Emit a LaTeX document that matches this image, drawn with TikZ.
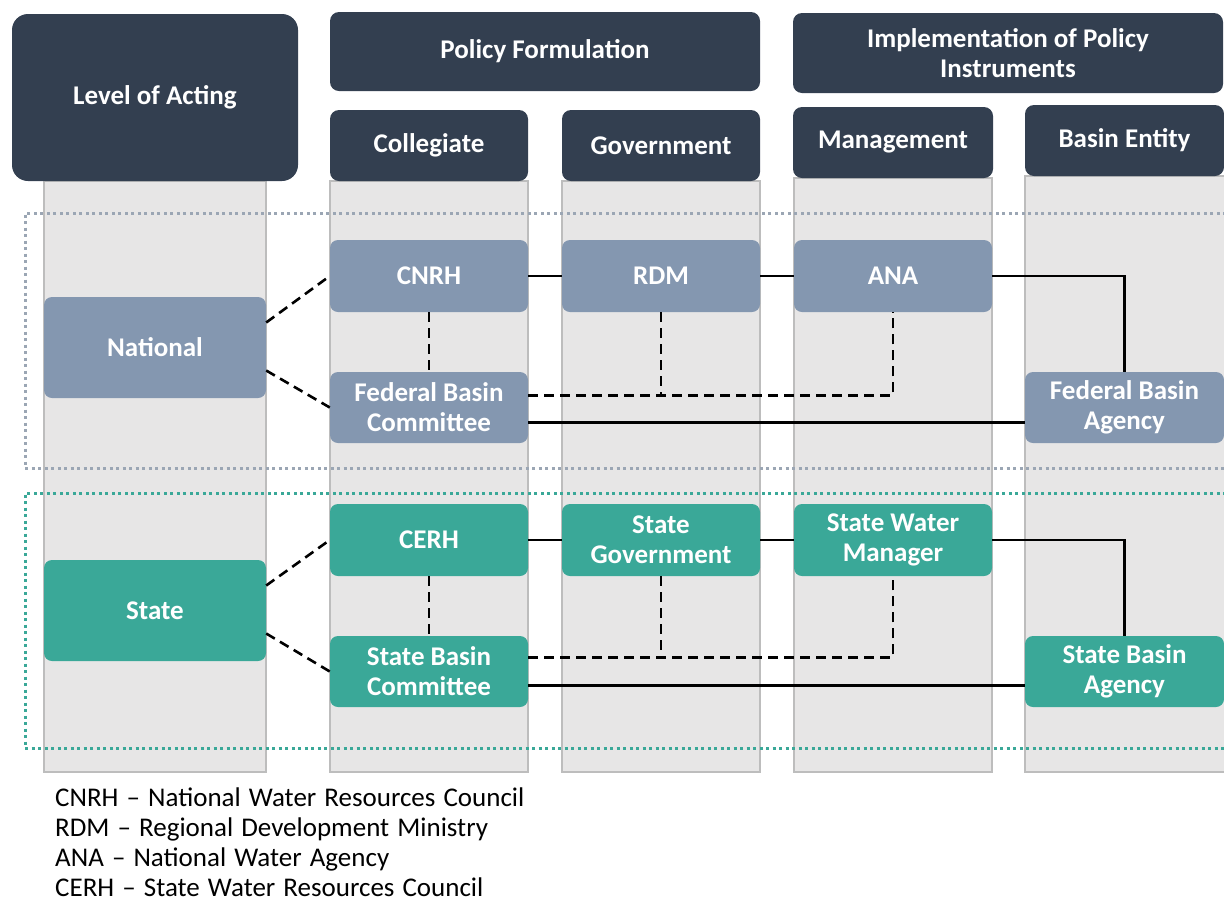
\documentclass[tikz,border=0pt]{standalone}
\usepackage{fontspec}
\setmainfont{Carlito}
\definecolor{hdrblue}{HTML}{333F50}
\definecolor{natblue}{HTML}{8497B0}
\definecolor{stteal}{HTML}{3AA898}
\definecolor{lanegrey}{HTML}{E7E6E6}
\definecolor{laneline}{HTML}{BDBDBD}
\definecolor{natdot}{HTML}{9BA6B4}
\newcommand\legendfont{\fontsize{27}{30}\selectfont\spaceskip=0.3em\relax}
\begin{document}
\begin{tikzpicture}[x=1pt,y=-1pt,
  hdr/.style={shape=rectangle,rounded corners=9pt,fill=hdrblue,text=white,font=\bfseries\fontsize{27}{30}\selectfont,align=center,inner sep=0pt},
  nat/.style={shape=rectangle,rounded corners=8pt,fill=natblue,text=white,font=\bfseries\fontsize{27}{30}\selectfont,align=center,inner sep=0pt,minimum width=198pt,minimum height=72pt},
  st/.style={nat,fill=stteal},
  lane/.style={fill=lanegrey,draw=laneline,line width=1.2pt},
  levelbox/.style={line width=3pt,dash pattern=on 3pt off 3.5pt},
  link/.style={line width=2.6pt,black},
  dlink/.style={link,dash pattern=on 10pt off 6pt}]
\useasboundingbox (0,0) rectangle (1224,906);
\fill[white] (0,0) rectangle (1224,906);
\draw[lane] (44,181) rectangle (266,772);
\draw[lane] (330,181) rectangle (528,772);
\draw[lane] (562,181) rectangle (760,772);
\draw[lane] (794,178) rectangle (992,772);
\draw[lane] (1025,176) rectangle (1230,772);
\draw[levelbox,natdot] (1226,213) -- (25,213) -- (25,468) -- (1226,468);
\draw[levelbox,stteal] (1226,493) -- (25,493) -- (25,748) -- (1226,748);
\node[hdr,rounded corners=16pt,minimum width=286pt,minimum height=167pt] (LA) at (155,97.5) {Level of Acting};
\node[hdr,minimum width=430pt,minimum height=79pt] (PF) at (545,51.5) {Policy Formulation};
\node[hdr,minimum width=430pt,minimum height=80pt] (IP) at (1008,53) {Implementation of Policy\\Instruments};
\node[hdr,minimum width=198pt,minimum height=71pt] (CO) at (429,145.5) {Collegiate};
\node[hdr,minimum width=198pt,minimum height=71pt] (GO) at (661,145.5) {Government};
\node[hdr,minimum width=200pt,minimum height=71pt] (MA) at (893,142.5) {Management};
\node[hdr,minimum width=199pt,minimum height=71pt] (BE) at (1124.5,140.5) {Basin Entity};
\node[nat,minimum width=222pt,minimum height=101pt] (N) at (155,347.5) {National};
\node[nat] (CNRH) at (429,276) {CNRH};
\node[nat] (RDM) at (661,276) {RDM};
\node[nat] (ANA) at (893,276) {ANA};
\node[nat,minimum height=71pt] (FBC) at (429,407.5) {Federal Basin\\Committee};
\node[nat,minimum width=199pt,minimum height=71pt] (FBA) at (1124.5,407.5) {Federal Basin\\Agency};
\node[st,minimum width=222pt,minimum height=101pt] (S) at (155,610.5) {State};
\node[st] (CERH) at (429,540) {CERH};
\node[st] (SG) at (661,540) {State\\Government};
\node[st] (SWM) at (893,540) {State Water\\Manager};
\node[st,minimum height=71pt] (SBC) at (429,671.5) {State Basin\\Committee};
\node[st,minimum width=199pt,minimum height=71pt] (SBA) at (1124.5,671.5) {State Basin\\Agency};
\coordinate (FBd) at ([yshift=12pt]FBC.east);
\coordinate (SBd) at ([yshift=14pt]SBC.east);
\draw[dlink] ([yshift=25pt]N.east) -- (CNRH.west);
\draw[dlink] ([yshift=-23pt]N.east) -- (FBC.west);
\draw[dlink] (CNRH.south) -- (FBC.north);
\draw[dlink] (FBd) -| (ANA.south);
\draw[dlink] (RDM.south) -- (RDM.south |- FBd);
\draw[link] (CNRH) -- (RDM);
\draw[link] (RDM) -- (ANA);
\draw[link] (ANA.east) -| (FBA.north);
\draw[link] ([yshift=-15pt]FBC.east) -- ([yshift=-15pt]FBC.east -| FBA.west);
\draw[dlink] ([yshift=25pt]S.east) -- (CERH.west);
\draw[dlink] ([yshift=-23pt]S.east) -- (SBC.west);
\draw[dlink] (CERH.south) -- (SBC.north);
\draw[dlink] (SBd) -| (SWM.south);
\draw[dlink] (SG.south) -- (SG.south |- SBd);
\draw[link] (CERH) -- (SG);
\draw[link] (SG) -- (SWM);
\draw[link] (SWM.east) -| (SBA.north);
\draw[link] ([yshift=-14pt]SBC.east) -- ([yshift=-14pt]SBC.east -| SBA.west);
\node[anchor=west,align=left,inner sep=0pt,font=\legendfont] (L) at (55,842) {CNRH -- National Water Resources Council\\RDM -- Regional Development Ministry\\ANA -- National Water Agency\\CERH -- State Water Resources Council};
\end{tikzpicture}
\end{document}
